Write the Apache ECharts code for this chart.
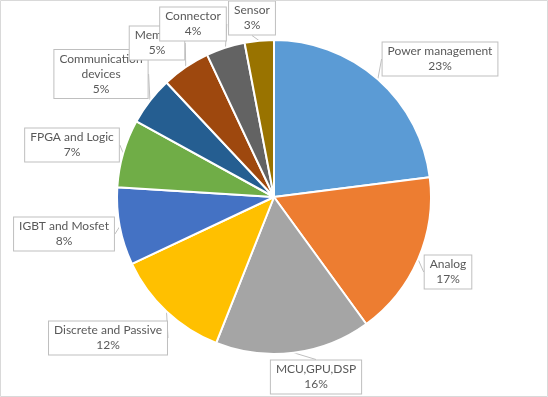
<!DOCTYPE html>
<html>
<head>
<meta charset="utf-8">
<script src="https://cdn.jsdelivr.net/npm/echarts@6/dist/echarts.min.js"></script>
<style>
  html, body { margin: 0; padding: 0; background: #fff; }
  #main { width: 548px; height: 397px; }
</style>
</head>
<body>
<div id="main"></div>
<script>
// segments, clockwise from 12 o'clock
var categories = ['Power management', 'Analog', 'MCU,GPU,DSP', 'Discrete and Passive',
    'IGBT and Mosfet', 'FPGA and Logic', 'Communication\ndevices', 'Memory', 'Connector', 'Sensor'];
var shares = [23, 17, 16, 12, 8, 7, 5, 5, 4, 3];
var colors = ['#5b9bd5', '#ed7d31', '#a5a5a5', '#ffc000', '#4472c4',
    '#70ad47', '#255e91', '#9e480e', '#636363', '#997300'];

// where the callout boxes sit (centre of box)
var labelPos = [[440, 59], [448, 272], [316, 377], [108, 338], [64, 234],
    [72, 145], [101, 74], [157, 43], [193, 24], [252, 18]];

var myChart = echarts.init(document.getElementById('main'));

var option = {
    animation: false,
    graphic: [{
        type: 'rect',
        shape: { x: 0.5, y: 0.5, width: 547, height: 396 },
        style: { fill: 'none', stroke: '#d9d9d9', lineWidth: 1 },
        z: 100
    }],
    series: [{
        type: 'pie',
        center: [274, 197],
        radius: 157,
        startAngle: 90,
        clockwise: true,
        avoidLabelOverlap: false,
        itemStyle: {
            borderColor: '#fff',
            borderWidth: 2
        },
        label: {
            show: true,
            formatter: '{b}\n{c}%',
            color: '#595959',
            fontFamily: 'Lato',
            fontSize: 12,
            lineHeight: 15,
            align: 'center',
            backgroundColor: '#fff',
            borderColor: '#bfbfbf',
            borderWidth: 1,
            padding: [2, 5, 1, 5]
        },
        labelLine: {
            show: true,
            length: 0,
            length2: 0,
            lineStyle: { color: '#bfbfbf', width: 1 }
        },
        labelLayout: function (params) {
            var p = labelPos[params.dataIndex];
            return {
                x: p[0],
                y: p[1],
                align: 'center',
                verticalAlign: 'middle'
            };
        },
        emphasis: { disabled: true },
        data: categories.map(function (name, i) {
            return { name: name, value: shares[i], itemStyle: { color: colors[i] } };
        })
    }]
};
myChart.setOption(option);
</script>
</body>
</html>
